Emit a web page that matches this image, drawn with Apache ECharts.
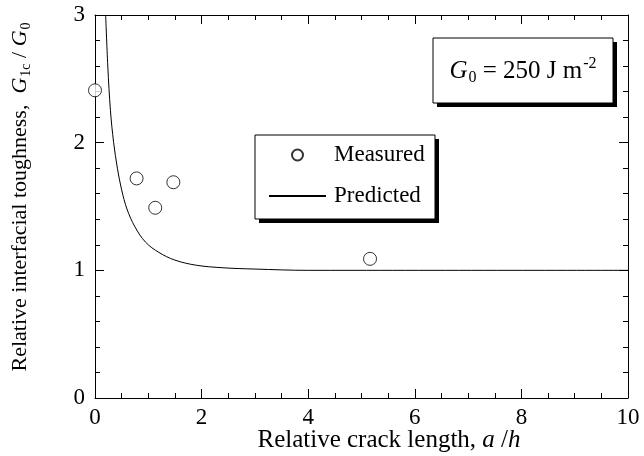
<!DOCTYPE html>
<html>
<head>
<meta charset="utf-8">
<script src="https://cdn.jsdelivr.net/npm/echarts@6/dist/echarts.min.js"></script>
<style>
  html, body { margin: 0; padding: 0; background: #fff; }
  #chart { width: 644px; height: 456px; }
</style>
</head>
<body>
<div id="chart"></div>
<script>
// Measured relative toughness vs relative crack length
const measuredX = [0.0, 0.78, 1.13, 1.47, 5.16];
const measuredY = [2.41, 1.72, 1.49, 1.69, 1.09];

// Predicted curve
const predictedX = [0.2, 0.24, 0.29, 0.35, 0.42, 0.5, 0.6, 0.75, 0.95, 1.2, 1.5, 1.9, 2.4, 3.0, 4.0, 10.0];
const predictedY = [3.0, 2.6, 2.25, 2.0, 1.8, 1.63, 1.48, 1.34, 1.22, 1.14, 1.08, 1.04, 1.02, 1.01, 1.0, 1.0];

const xTicks = [0, 2, 4, 6, 8, 10];
const yTicks = [0, 1, 2, 3];

const SERIF = '"Liberation Serif", "DejaVu Serif", serif';
const zip = (xs, ys) => xs.map((x, i) => [x, ys[i]]);

const chart = echarts.init(document.getElementById('chart'), null, { renderer: 'canvas' });

const baseAxis = {
  type: 'value',
  axisLine: { show: true, onZero: false, lineStyle: { color: '#000', width: 1 } },
  axisTick: { show: true, inside: true, length: 9, lineStyle: { color: '#000', width: 1 } },
  minorTick: { show: true, length: 5, lineStyle: { color: '#000', width: 1 } },
  splitLine: { show: false },
  axisLabel: { show: true, color: '#000', fontFamily: SERIF, fontSize: 23 }
};

const xMin = xTicks[0], xMax = xTicks[xTicks.length - 1];
const yMin = yTicks[0], yMax = yTicks[yTicks.length - 1];

const xAxisMain = Object.assign({}, baseAxis, {
  min: xMin, max: xMax, interval: 2, position: 'bottom',
  minorTick: Object.assign({}, baseAxis.minorTick, { splitNumber: 4 }),
  axisLabel: Object.assign({}, baseAxis.axisLabel, { margin: 8 })
});
const xAxisTop = Object.assign({}, xAxisMain, {
  position: 'top', axisLabel: { show: false }
});
const yAxisMain = Object.assign({}, baseAxis, {
  min: yMin, max: yMax, interval: 1, position: 'left',
  minorTick: Object.assign({}, baseAxis.minorTick, { splitNumber: 5 }),
  axisLabel: Object.assign({}, baseAxis.axisLabel, { margin: 10 })
});
const yAxisRight = Object.assign({}, yAxisMain, {
  position: 'right', axisLabel: { show: false }
});

function richSet(size, subSize, subDrop, supRise) {
  return {
    n: { fontFamily: SERIF, fontSize: size, color: '#000' },
    i: { fontFamily: SERIF, fontSize: size, fontStyle: 'italic', color: '#000' },
    sub: { fontFamily: SERIF, fontSize: subSize, color: '#000', padding: [subDrop, 0, 0, 1] },
    sup: { fontFamily: SERIF, fontSize: subSize, color: '#000', padding: [0, 0, supRise, 1] }
  };
}

// Framed box with a solid drop shadow toward the lower right
function shadowBox(x, y, w, h) {
  return [
    { type: 'rect', shape: { x: x + 4, y: y + 4, width: w, height: h }, style: { fill: '#000' }, z: 1 },
    { type: 'rect', shape: { x: x, y: y, width: w, height: h }, style: { fill: '#fff', stroke: '#000', lineWidth: 1 }, z: 1 }
  ];
}

const option = {
  backgroundColor: '#fff',
  animation: false,
  grid: { left: 95, right: 16, top: 15, bottom: 58, containLabel: false },
  xAxis: [xAxisMain, xAxisTop],
  yAxis: [yAxisMain, yAxisRight],
  legend: {
    orient: 'vertical',
    left: 268, top: 142,
    padding: 0,
    itemWidth: 57, itemHeight: 11, itemGap: 15,
    textStyle: { fontFamily: SERIF, fontSize: 23, color: '#000', lineHeight: 26, padding: [0, 0, 0, 3] },
    data: ['Measured', 'Predicted'],
    z: 5
  },
  graphic: [].concat(
    shadowBox(255, 135, 180, 84),
    shadowBox(433, 38, 180, 65),
    [
      {
        type: 'text', x: 523, y: 71, z: 3,
        style: {
          text: '{i|G}{sub|0}{n| = 250 J m}{sup|-2}',
          align: 'center', verticalAlign: 'middle',
          rich: richSet(25, 16, 14, 15)
        }
      },
      {
        type: 'text', x: 389, y: 440, z: 3,
        style: {
          text: '{n|Relative crack length, }{i|a}{n| /}{i|h}',
          align: 'center', verticalAlign: 'middle',
          rich: richSet(25, 15, 13, 14)
        }
      },
      {
        type: 'text', x: 20, y: 197, rotation: Math.PI / 2, z: 3,
        style: {
          text: '{n|Relative interfacial toughness,  }{i|G}{sub|1c}{n| / }{i|G}{sub|0}',
          align: 'center', verticalAlign: 'middle',
          rich: richSet(22, 14, 13, 14)
        }
      }
    ]
  ),
  series: [
    {
      name: 'Measured',
      type: 'scatter',
      xAxisIndex: 0, yAxisIndex: 0,
      symbol: 'circle',
      symbolSize: 13,
      clip: false,
      itemStyle: { color: '#fff', borderColor: '#000', borderWidth: 1 },
      data: zip(measuredX, measuredY),
      z: 4
    },
    {
      name: 'Predicted',
      type: 'line',
      xAxisIndex: 0, yAxisIndex: 0,
      symbol: 'none',
      showSymbol: false,
      smooth: 0.35,
      clip: true,
      itemStyle: { color: 'rgba(0,0,0,0)', borderWidth: 0 },
      lineStyle: { color: '#000', width: 1 },
      data: zip(predictedX, predictedY),
      z: 3
    }
  ]
};

chart.setOption(option);
</script>
</body>
</html>
